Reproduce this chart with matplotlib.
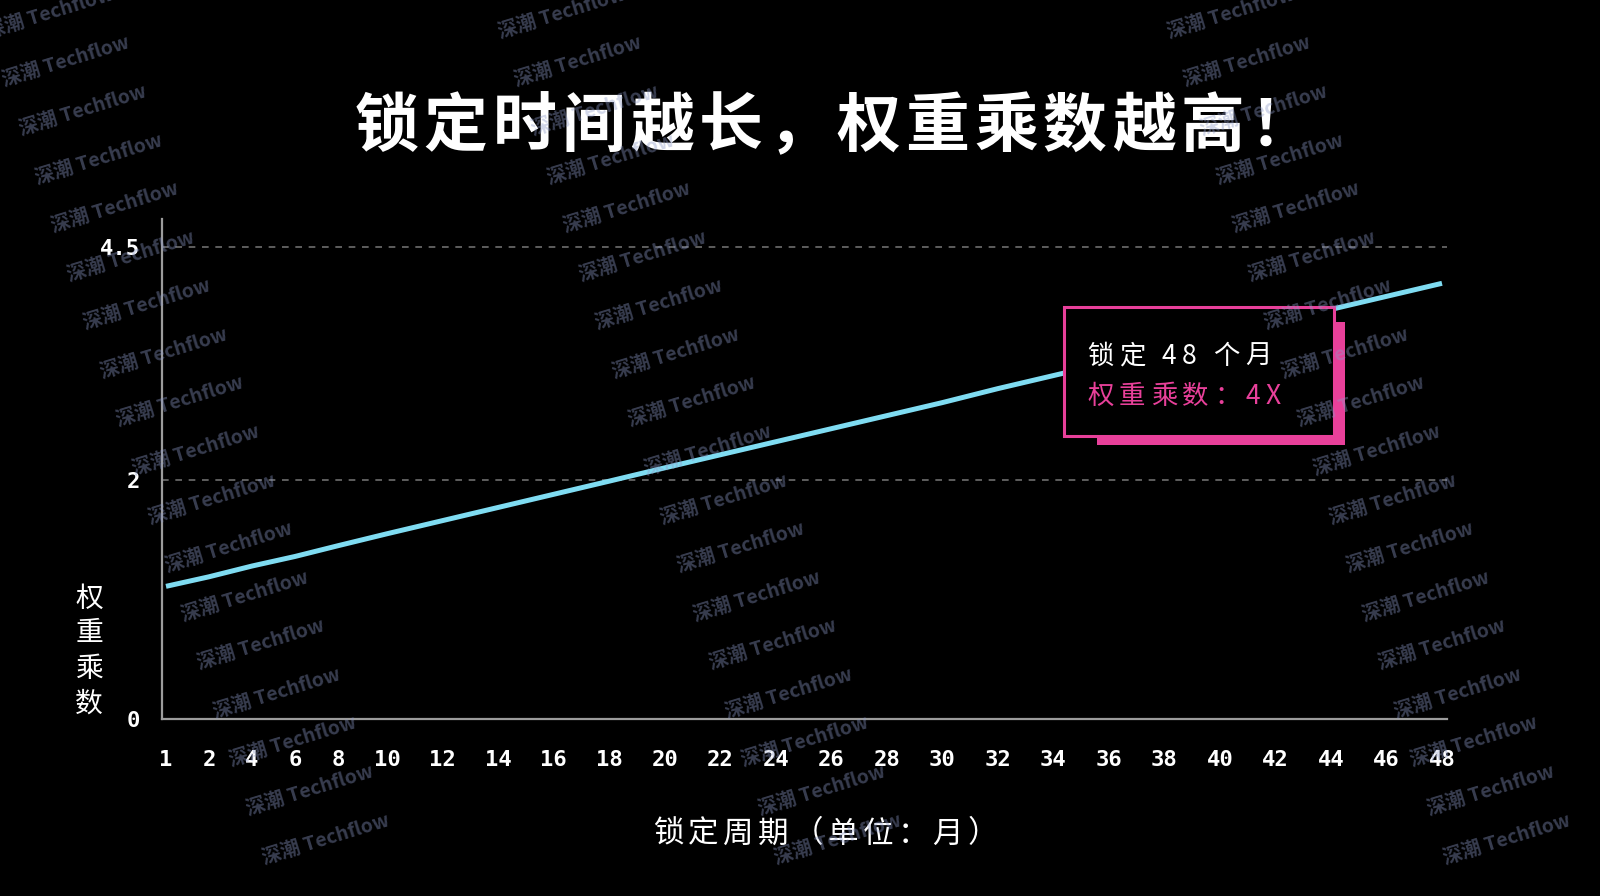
import numpy as np
import matplotlib
matplotlib.use('Agg')
import matplotlib.pyplot as plt
from matplotlib.patches import Rectangle
from matplotlib.font_manager import FontProperties, findfont, get_font

# ---------------- data ----------------
months = [1, 2, 4, 6, 8, 10, 12, 14, 16, 18, 20, 22, 24, 26, 28, 30,
          32, 34, 36, 38, 40, 42, 44, 46, 48]
multiplier = [1.11, 1.19, 1.28, 1.36, 1.45, 1.55, 1.66, 1.77, 1.88, 1.99,
              2.13, 2.27, 2.41, 2.55, 2.69, 2.83, 2.98, 3.12, 3.26, 3.40,
              3.54, 3.69, 3.83, 3.97, 4.11]
x_tick_labels = [str(m) for m in months]
y_ticks = [0, 2, 4.5]
y_tick_labels = ['0', '2', '4.5']

title = '锁定时间越长，权重乘数越高！'
x_label = '锁定周期（单位：月）'
y_label = '权重乘数'
note_line1 = '锁定 48 个月'
note_line2 = '权重乘数：4X'
watermark = '深潮 Techflow'

# ---------------- style ----------------
W, H = 1600, 896
BG = '#000000'
LINE = '#7fdcf2'
PINK = '#e8409a'
AXIS = '#9c9c9c'
GRID = '#6e6e6e'
CJK = ['Noto Sans CJK SC', 'DejaVu Sans']
MONO = ['DejaVu Sans Mono']
plt.rcParams['font.family'] = CJK

# piecewise axis scales (layout of the original graphic)
x_nodes = [-9, 1, 2, 8, 10, 48, 100]
x_pos = [-430, 0, 43, 172, 221, 1276, 2720]
y_nodes = [-5, 0, 2, 4.5, 10]
y_pos = [-597.5, 0, 239, 472, 984.6]


def xf(v):
    return np.interp(v, x_nodes, x_pos)


def xi(p):
    return np.interp(p, x_pos, x_nodes)


def yf(v):
    return np.interp(v, y_nodes, y_pos)


def yi(p):
    return np.interp(p, y_pos, y_nodes)


fig = plt.figure(figsize=(W / 100, H / 100), dpi=100, facecolor=BG)
ax = fig.add_axes([162 / W, 177 / H, (1447 - 162) / W, (719 - 219) / H])
ax.set_facecolor(BG)
ax.set_xscale('function', functions=(xf, xi))
ax.set_yscale('function', functions=(yf, yi))
ax.set_xlim(1 - 4 / 43, 48 + 5 / 27.76)
ax.set_ylim(0, 4.8)

for yv in y_ticks[1:]:
    ax.axhline(yv, color=GRID, lw=1.2, ls=(0, (4, 4)), zorder=1)

ax.plot(months, multiplier, color=LINE, lw=3.6, solid_capstyle='butt', zorder=3)

ax.set_xticks(months)
ax.set_xticklabels(x_tick_labels)
ax.set_yticks(y_ticks)
ax.set_yticklabels(y_tick_labels)
ax.minorticks_off()
ax.tick_params(axis='both', length=0, colors='white')
ax.tick_params(axis='x', pad=22)
ax.tick_params(axis='y', pad=16)
for lab in ax.get_xticklabels() + ax.get_yticklabels():
    lab.set_family(MONO)
    lab.set_fontsize(16)
    lab.set_fontweight('bold')
    lab.set_color('white')

for s in ['top', 'right']:
    ax.spines[s].set_visible(False)
for s in ['left', 'bottom']:
    ax.spines[s].set_color(AXIS)
    ax.spines[s].set_linewidth(1.6)


# ---------- letter-spaced text helper (each glyph is real text) ----------
def advance_px(ch, size_pt, weight):
    """pen advance of one character, in pixels"""
    try:
        fp = FontProperties(family='Noto Sans CJK SC', weight=weight)
        font = get_font(findfont(fp))
        font.set_size(size_pt, 100)
        g = font.load_char(ord(ch))
        adv = g.linearHoriAdvance / 65536.0
        if adv > 0:
            return adv
    except Exception:
        pass
    em = size_pt * 100 / 72
    if ord(ch) >= 0x2E80:
        return em
    if ch == ' ':
        return 0.224 * em
    return 0.56 * em


def spaced_text(x_px, y_px, s, size, spacing, ha='left', weight='normal', **kw):
    advs = [advance_px(c, size, weight) for c in s]
    total = sum(advs) + spacing * (len(s) - 1)
    if ha == 'center':
        x_px = x_px - total / 2
    cur = x_px
    for c, a in zip(s, advs):
        if c != ' ':
            fig.text(cur / W, 1 - y_px / H, c, ha='left', va='center',
                     fontsize=size, fontweight=weight, family=CJK, **kw)
        cur += a + spacing


# titles / labels
spaced_text(355, 127, title, 46, 4.9, weight='bold', color='white')
spaced_text(653, 834, x_label, 22, 4.4, color='white')
fig.text(89 / W, 1 - 651 / H, '\n'.join(y_label), ha='center', va='center',
         fontsize=20, color='white', family=CJK, linespacing=1.22)


# annotation box with offset shadow
def frect(x0, y0, x1, y1, **kw):
    return Rectangle((x0 / W, 1 - y1 / H), (x1 - x0) / W, (y1 - y0) / H,
                     transform=fig.transFigure, **kw)


fig.add_artist(frect(1097, 322, 1345, 445, facecolor=PINK, edgecolor='none', zorder=4))
fig.add_artist(frect(1064, 307, 1334, 436, facecolor=BG, edgecolor=PINK, lw=2.2, zorder=5))
spaced_text(1087, 356, note_line1, 19, 5.4, color='white', zorder=6)
spaced_text(1087, 396, note_line2, 19, 5.4, color=PINK, zorder=6)

# watermark
k = W / 1568
for i in range(18):
    yy = (13 + 47.6 * i) * k
    xx = (49 + 15.9 * i) * k
    for off in (0, 512, 1181):
        fig.text((xx + off) / W, 1 - yy / H, watermark, rotation=17,
                 ha='center', va='center', fontsize=14, fontweight='bold',
                 color=(0.55, 0.6, 0.78), alpha=0.4, zorder=20, family=CJK)

fig.savefig('out.png', dpi=100, facecolor=BG)
